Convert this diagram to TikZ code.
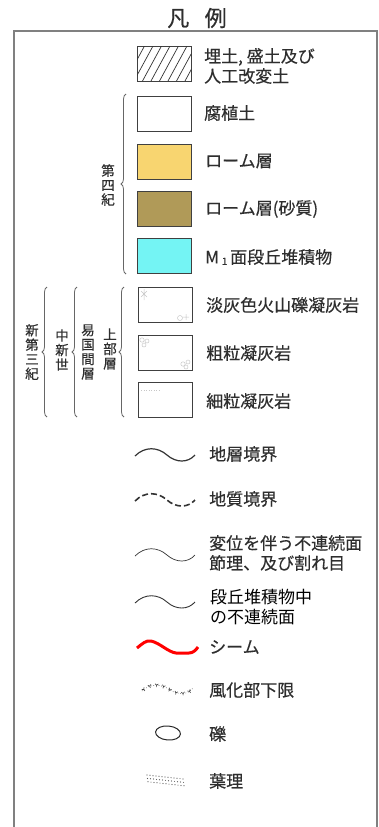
\documentclass[tikz,border=0pt]{standalone}
\usepackage{fontspec}
\setmainfont{Noto Sans CJK JP}[FakeBold=0.4]
\newfontfamily\plainjp{Noto Sans CJK JP}
\usetikzlibrary{decorations.pathreplacing,decorations.markings,shapes.geometric}
\definecolor{txt}{HTML}{2E2E2E}
\definecolor{loam}{HTML}{F8D570}
\definecolor{sandloam}{HTML}{B09A58}
\definecolor{terrace}{HTML}{74F4F4}
\begin{document}
\begin{tikzpicture}[x=1pt,y=-1pt,
  lbox/.style={draw=black!75, line width=1pt, minimum width=54pt, minimum height=35pt, inner sep=0pt},
  lbl/.style={anchor=west, text=txt, font=\fontsize{17}{20}\selectfont, inner sep=0pt, align=left},
  vlbl/.style={text=txt, font=\fontsize{13.5}{14.5}\selectfont, align=center, inner sep=0pt},
  brc/.style={draw=black!60, line width=0.8pt, decorate, decoration={brace, amplitude=5pt}},
  frameline/.style={draw=black!50, line width=1.5pt},
  faint/.style={draw=black!22, line width=0.5pt},
  wave/.style={draw=black!80, line width=1.2pt}
  ]
\useasboundingbox (0,0) rectangle (379,827);
% title and frame
\node[font=\fontsize{22}{22}\selectfont, text=txt] (title) at (197,18) {凡\hspace{0.7em}例};
\draw[frameline] (14,827) -- (14,31) -- (377,31) -- (377,827);

% boxes
\node[lbox] (b1) at (164,63.5) {};
\begin{scope}
\clip (137,46) rectangle (191,81);
\foreach \i in {-20,-11.5,...,60}{\draw[black!80, line width=0.7pt] ({137+\i},81) -- ({137+\i+19},46);}
\end{scope}
\node[lbox] (b2) at (164,113.5) {};
\node[lbox, fill=loam] (b3) at (164,161.5) {};
\node[lbox, fill=sandloam] (b4) at (164,209) {};
\node[lbox, fill=terrace] (b5) at (164,256) {};
\node[lbox] (b6) at (165,305) {};
\node[lbox] (b7) at (165,353) {};
\node[lbox] (b8) at (165,400) {};
% faint marks inside the tuff boxes
\draw[faint] (141,291) -- (147,297) (147,291) -- (141,297) (144,289) -- (144,300);
\draw[faint] (180,318) circle[radius=2.5] (186,314) -- (186,320) (183,317) -- (189,317);
\draw[faint] (142,340) circle[radius=2.2] (147,341) circle[radius=2] (144,345) circle[radius=2];
\draw[faint] (183,364) circle[radius=2.2] (188,362) circle[radius=2] (186,367) circle[radius=2];
\draw[faint, dotted] (141,390) -- (160,390);

% labels
\node[lbl] (t1) at (204,66) {埋土, 盛土及び\\人工改変土};
\node[lbl] (t2) at (204,113) {腐植土};
\node[lbl] (t3) at (205,161) {ローム層};
\node[lbl] (t4) at (205,209) {ローム層(砂質)};
\node[lbl] (t5) at (205,257) {M\,\raisebox{-1.5pt}{\fontsize{10}{10}\selectfont 1}\,面段丘堆積物};
\node[lbl] (t6) at (206,305) {淡灰色火山礫凝灰岩};
\node[lbl] (t7) at (206,353) {粗粒凝灰岩};
\node[lbl] (t8) at (206,401) {細粒凝灰岩};

% braces and vertical labels
\coordinate (q1) at (126,274); \coordinate (q2) at (126,94);
\draw[brc] (q1) -- (q2);
\node[vlbl] (v1) at (108,185) {第\\四\\紀};
\coordinate (n1a) at (47,417); \coordinate (n1b) at (47,287);
\coordinate (n2a) at (77,417); \coordinate (n2b) at (77,287);
\coordinate (n3a) at (124,417); \coordinate (n3b) at (124,287);
\draw[brc] (n1a) -- (n1b);
\draw[brc] (n2a) -- (n2b);
\draw[brc] (n3a) -- (n3b);
\node[vlbl] (v2) at (32,352) {新\\第\\三\\紀};
\node[vlbl] (v3) at (62,350) {中\\新\\世};
\node[vlbl] (v4) at (88,352) {易\\国\\間\\層};
\node[vlbl] (v5) at (110,349) {上\\部\\層};

% line symbols
\coordinate (w1a) at (135,456); \coordinate (w1b) at (195,455);
\draw[wave] (w1a) .. controls (145,446) and (158,447) .. (167,455) .. controls (176,463) and (188,463) .. (w1b);
\node[lbl] (t9) at (209,454) {地層境界};

\coordinate (w2a) at (135,501); \coordinate (w2b) at (195,500);
\draw[wave, line width=1.6pt, dash pattern=on 6pt off 3pt] (w2a) .. controls (145,491) and (158,492) .. (167,500) .. controls (176,508) and (188,508) .. (w2b);
\node[lbl] (t10) at (209,499) {地質境界};

\coordinate (w3a) at (135,556); \coordinate (w3b) at (195,555);
\draw[wave, line width=0.7pt] (w3a) .. controls (145,546) and (158,547) .. (167,555) .. controls (176,563) and (188,563) .. (w3b);
\node[lbl] (t11) at (209,553) {変位を伴う不連続面\\節理、及び割れ目};

\coordinate (w4a) at (135,603); \coordinate (w4b) at (195,602);
\draw[wave, line width=0.9pt] (w4a) .. controls (145,593) and (158,594) .. (167,602) .. controls (176,610) and (188,610) .. (w4b);
\node[lbl, text=black, font=\plainjp\fontsize{17}{20}\selectfont] (t12) at (210,607) {段丘堆積物中\\の不連続面};

\coordinate (w5a) at (137,648); \coordinate (w5b) at (198,647);
\draw[red, line width=3pt, line join=round] (w5a) .. controls (142,644) and (146,640) .. (151,641) .. controls (160,643) and (168,652) .. (176,653) -- (189,653) .. controls (193,653) and (196,650) .. (w5b);
\node[lbl] (t13) at (209,647) {シーム};

\coordinate (w6a) at (142,691); \coordinate (w6b) at (193,688);
\draw[black!70, line width=0.6pt, dotted,
  postaction={decorate, decoration={markings,
    mark=between positions 0.04 and 0.98 step 7pt with {\draw[solid, black!75, line width=0.6pt] (-1.6pt,1.4pt) -- (0pt,0pt) -- (1.6pt,1.4pt) (0pt,0pt) -- (0pt,-1.8pt);}}}]
  (w6a) .. controls (150,683) and (162,684) .. (170,690) .. controls (178,695) and (188,695) .. (w6b);
\node[lbl] (t14) at (209,690) {風化部下限};

\node[draw=black!85, line width=1pt, ellipse, minimum width=25pt, minimum height=14pt, inner sep=0pt, rotate=-5] (peb) at (168,733) {};
\node[lbl] (t15) at (209,734) {礫};

\foreach \r in {0,1,2}{\foreach \i in {0,...,12}{\fill[black!65] ({147+3*\i+\r*0.5},{775+3.4*\r+0.33*\i}) circle[radius=0.6];}}
\coordinate (lam) at (167,780);
\node[lbl] (t16) at (209,781) {葉理};
\end{tikzpicture}
\end{document}
